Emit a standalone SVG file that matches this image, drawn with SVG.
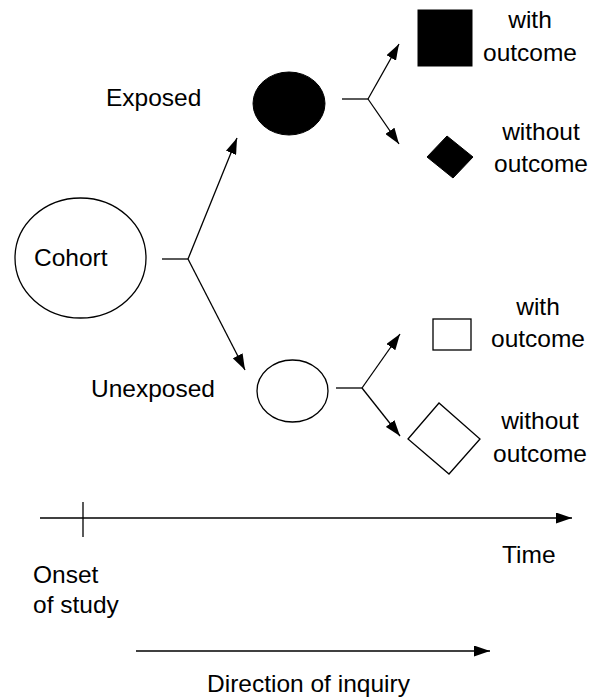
<svg xmlns="http://www.w3.org/2000/svg" width="595" height="699" viewBox="0 0 595 699">
<style>
text{font-family:"Liberation Sans",Arial,sans-serif;font-size:24.5px;fill:#000}
.c{text-anchor:middle}
.ln{stroke:#000;stroke-width:1.3;fill:none}
.open{fill:#fff;stroke:#000;stroke-width:1.3}
.solid{fill:#000;stroke:#000;stroke-width:1}
</style>
<defs>
<marker id="ah" viewBox="0 0 16 11" refX="16" refY="5.5" markerWidth="16" markerHeight="11" markerUnits="userSpaceOnUse" orient="auto">
<path d="M0,0 L16,5.5 L0,11 z" fill="#000"/>
</marker>
</defs>
<rect width="595" height="699" fill="#fff"/>
<g id="cohort">
<ellipse class="open" cx="80.5" cy="258" rx="65.5" ry="60"/>
<text x="34" y="266">Cohort</text>
</g>
<g id="exposed">
<ellipse class="solid" cx="289" cy="103.5" rx="36" ry="31.5"/>
<text x="106" y="106">Exposed</text>
</g>
<g id="unexposed">
<ellipse class="open" cx="292.5" cy="391" rx="35.5" ry="31"/>
<text x="91" y="397">Unexposed</text>
</g>
<g id="exposed-with">
<rect class="solid" x="418" y="10" width="54" height="56"/>
<text class="c" x="530" y="28">with</text>
<text class="c" x="530" y="61">outcome</text>
</g>
<g id="exposed-without">
<polygon class="solid" points="427,157 447,136 473,157 453,178"/>
<text class="c" x="541" y="140">without</text>
<text class="c" x="541" y="172">outcome</text>
</g>
<g id="unexposed-with">
<rect class="open" x="433" y="319" width="38" height="31"/>
<text class="c" x="538" y="315">with</text>
<text class="c" x="538" y="347">outcome</text>
</g>
<g id="unexposed-without">
<polygon class="open" points="408,439 439,403 480,439 449,474"/>
<text class="c" x="540" y="429">without</text>
<text class="c" x="540" y="462">outcome</text>
</g>
<g id="timeline">
<line class="ln" x1="83" y1="502" x2="83" y2="537"/>
<text x="502" y="563">Time</text>
<text x="33" y="583">Onset</text>
<text x="33" y="613">of study</text>
<text x="207" y="692">Direction of inquiry</text>
</g>
<g id="connectors">
<path class="ln" d="M162,259 H188"/>
<path class="ln" d="M188,259 L237,138" marker-end="url(#ah)"/>
<path class="ln" d="M188,259 L245,370" marker-end="url(#ah)"/>
<path class="ln" d="M342,99 H368"/>
<path class="ln" d="M368,99 L399,44" marker-end="url(#ah)"/>
<path class="ln" d="M368,99 L399,144" marker-end="url(#ah)"/>
<path class="ln" d="M336,388 H362"/>
<path class="ln" d="M362,388 L400,334" marker-end="url(#ah)"/>
<path class="ln" d="M362,388 L400,436" marker-end="url(#ah)"/>
<path class="ln" d="M40,518 H572" marker-end="url(#ah)"/>
<path class="ln" d="M136,651 H490" marker-end="url(#ah)"/>
</g>
</svg>
